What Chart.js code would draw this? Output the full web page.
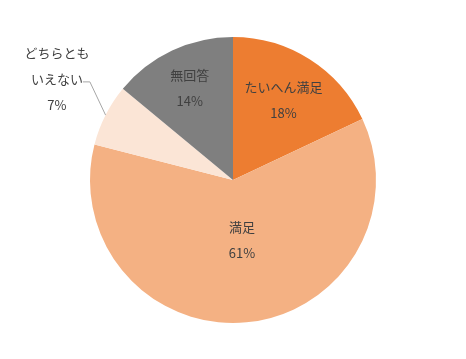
<!DOCTYPE html>
<html>
<head>
<meta charset="utf-8">
<script src="https://cdn.jsdelivr.net/npm/chart.js@4"></script>
<style>
html,body{margin:0;padding:0;background:#fff;}
#wrap{width:466px;height:359px;position:relative;}
</style>
</head>
<body>
<div id="wrap"><canvas id="c" width="466" height="359"></canvas></div>
<script>
const categories = ["たいへん満足", "満足", "どちらとも\nいえない", "無回答"];
const values = [18, 61, 7, 14];
const colors = ["#ED7D31", "#F4B183", "#FBE5D6", "#7F7F7F"];

// label placement: radius factor relative to outer radius, and angle shift (rad)
const labelRadius = [0.66, 0.425, 1.42, 0.71];
const labelAngleShift = [0, -0.054, 0.05, 0];

const labelPlugin = {
  id: 'pieLabels',
  afterDatasetsDraw(chart) {
    const ctx = chart.ctx;
    const meta = chart.getDatasetMeta(0);
    ctx.save();
    ctx.font = '13px "Noto Sans CJK JP", sans-serif';
    ctx.fillStyle = '#404040';
    ctx.textAlign = 'center';
    ctx.textBaseline = 'middle';
    meta.data.forEach((arc, i) => {
      const p = arc.getProps(['x','y','startAngle','endAngle','outerRadius'], true);
      const mid = (p.startAngle + p.endAngle) / 2;
      const a = mid + labelAngleShift[i];
      const r = p.outerRadius * labelRadius[i];
      const cx = p.x + Math.cos(a) * r;
      const cy = p.y + Math.sin(a) * r;
      const lines = categories[i].split('\n');
      lines.push(values[i] + '%');
      const lh = 26;
      const top = cy - (lines.length - 1) * lh / 2;
      lines.forEach((t, k) => ctx.fillText(t, cx, top + k * lh));
      if (labelRadius[i] > 1) {
        // leader line
        const ex = p.x + Math.cos(mid) * p.outerRadius;
        const ey = p.y + Math.sin(mid) * p.outerRadius;
        const ly = top + 1 * lh + 3;
        ctx.strokeStyle = '#A6A6A6';
        ctx.lineWidth = 1;
        ctx.beginPath();
        ctx.moveTo(ex, ey);
        ctx.lineTo(cx + 33, ly);
        ctx.lineTo(cx + 26, ly);
        ctx.stroke();
      }
    });
    ctx.restore();
  }
};

new Chart(document.getElementById('c'), {
  type: 'pie',
  data: {
    labels: categories,
    datasets: [{
      data: values,
      backgroundColor: colors,
      borderWidth: 0,
      hoverOffset: 0
    }]
  },
  options: {
    responsive: false,
    animation: false,
    layout: { padding: { top: 37, bottom: 36 } },
    plugins: { legend: { display: false }, tooltip: { enabled: false } }
  },
  plugins: [labelPlugin]
});
</script>
</body>
</html>
